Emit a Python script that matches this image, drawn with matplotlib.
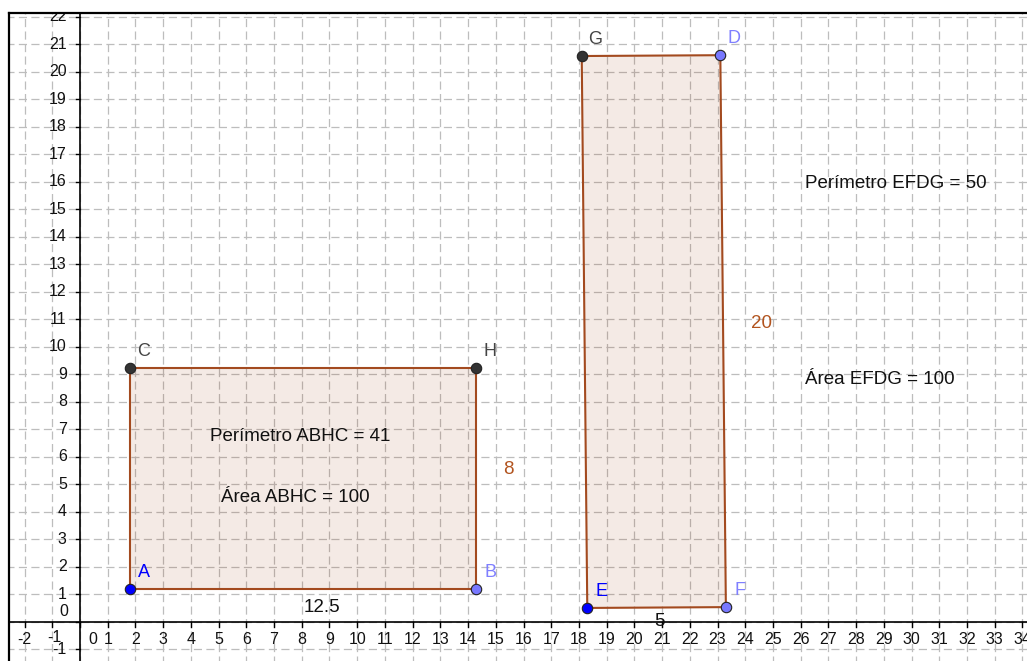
import matplotlib
matplotlib.use("Agg")
import matplotlib.pyplot as plt
from matplotlib.patches import Polygon
from matplotlib.transforms import offset_copy

plt.rcParams['font.family'] = ['Liberation Sans', 'DejaVu Sans']

# Data: rectangle ABHC and rectangle EFDG (vertices in drawing order)
rect1_names = ['A', 'B', 'H', 'C']
rect1_x = [1.8, 14.3, 14.3, 1.8]
rect1_y = [1.19, 1.19, 9.23, 9.23]

rect2_names = ['E', 'F', 'D', 'G']
rect2_x = [18.3, 23.3, 23.1, 18.1]
rect2_y = [0.50, 0.53, 20.60, 20.57]

# point style type: 'free' (blue), 'bound' (light blue), 'dep' (dark)
rect1_kinds = ['free', 'bound', 'dep', 'dep']
rect2_kinds = ['free', 'bound', 'bound', 'dep']

# segment length labels (text, x, y, colour kind)
seg_labels = ['12.5', '8', '20', '5']
seg_x = [8.73, 15.44, 24.6, 20.92]
seg_y = [0.53, 5.52, 10.86, 0.0]
seg_kind = ['black', 'brown', 'brown', 'black']

# measurement texts
info_texts = ['Perímetro ABHC = 41', 'Área ABHC = 100',
              'Perímetro EFDG = 50', 'Área EFDG = 100']
info_x = [4.69, 5.09, 26.15, 26.15]
info_y = [6.72, 4.53, 15.95, 8.79]

x_ticks = list(range(-2, 35))
y_ticks = list(range(-1, 23))

# styles
point_face = {'free': '#0000ff', 'bound': '#7878ff', 'dep': '#333333'}
label_col = {'free': '#0000ff', 'bound': '#7f7fff', 'dep': '#444444'}
seg_col = {'black': '#111111', 'brown': '#b2541f'}
edge_col = '#a34a1f'
fill_col = (153 / 255, 51 / 255, 0, 0.1)

W, H = 1027, 661
SX, SY = 27.72, 27.5      # px per unit
OX, OY = 80, 621.7        # origin in pixels (y from top)
left_px, top_px = 9, 13

fig = plt.figure(figsize=(W / 100, H / 100), dpi=100)
ax = fig.add_axes([left_px / W, 0, (W - left_px) / W, (H - top_px) / H])
ax.set_xlim((left_px - OX) / SX, (W - OX) / SX)
ax.set_ylim((OY - H) / SY, (OY - top_px) / SY)

# frame: only left and top borders visible
for s in ['right', 'bottom']:
    ax.spines[s].set_visible(False)
for s in ['left', 'top']:
    ax.spines[s].set_linewidth(1.6)
    ax.spines[s].set_color('black')
    ax.spines[s].set_zorder(8)

# dashed grid
ax.set_xticks(x_ticks)
ax.set_yticks(y_ticks)
ax.tick_params(length=0, labelbottom=False, labelleft=False)
ax.grid(True, color='#bdbdbd', linewidth=0.9, linestyle=(2.5, (6.5, 3.5)))
ax.set_axisbelow(True)

# axes through the origin
ax.axhline(0, color='black', lw=1.2, zorder=2)
ax.axvline(0, color='black', lw=1.2, zorder=2)


def tick_text(x, y, s, dx, dy, **kw):
    tr = offset_copy(ax.transData, fig=fig, x=dx, y=dy, units='points')
    ax.text(x, y, s, transform=tr, fontsize=11.5, color='#111111',
            clip_on=True, **kw)


for t in x_ticks:
    ax.plot([t, t], [0, -0.2], color='black', lw=1, zorder=2)
    if t == 0:
        tick_text(0, 0, '0', 9.5, -13, ha='center', va='center')
    elif t == -1:
        tick_text(t, 0, str(t), 1.5, -11.5, ha='center', va='center')
    else:
        tick_text(t, 0, str(t), 0, -13, ha='center', va='center')
for t in y_ticks:
    ax.plot([0, -0.15], [t, t], color='black', lw=1, zorder=2)
    if t == 0:
        tick_text(0, 0, '0', -12, 7, ha='center', va='center')
    else:
        tick_text(0, t, str(t), -9.5, 0, ha='right', va='center')


def draw_rect(xs, ys, names, kinds):
    poly = Polygon(list(zip(xs, ys)), closed=True, facecolor=fill_col,
                   edgecolor=edge_col, linewidth=1.5, zorder=3)
    ax.add_patch(poly)
    for x, y, n, k in zip(xs, ys, names, kinds):
        ax.plot(x, y, 'o', markersize=7.5, markerfacecolor=point_face[k],
                markeredgecolor='#222222', markeredgewidth=0.8, zorder=5)
        ax.annotate(n, (x, y), xytext=(10, 12), textcoords='offset points',
                    ha='center', va='center', fontsize=13, color=label_col[k], zorder=6)


draw_rect(rect1_x, rect1_y, rect1_names, rect1_kinds)
draw_rect(rect2_x, rect2_y, rect2_names, rect2_kinds)

for lab, x, y, k in zip(seg_labels, seg_x, seg_y, seg_kind):
    ax.text(x, y, lab, ha='center', va='center', fontsize=13.5, color=seg_col[k], zorder=6)

for txt, x, y in zip(info_texts, info_x, info_y):
    ax.text(x, y, txt, ha='left', va='center', fontsize=13.5, color='#111111', zorder=6)

fig.savefig('out.png', dpi=100)
